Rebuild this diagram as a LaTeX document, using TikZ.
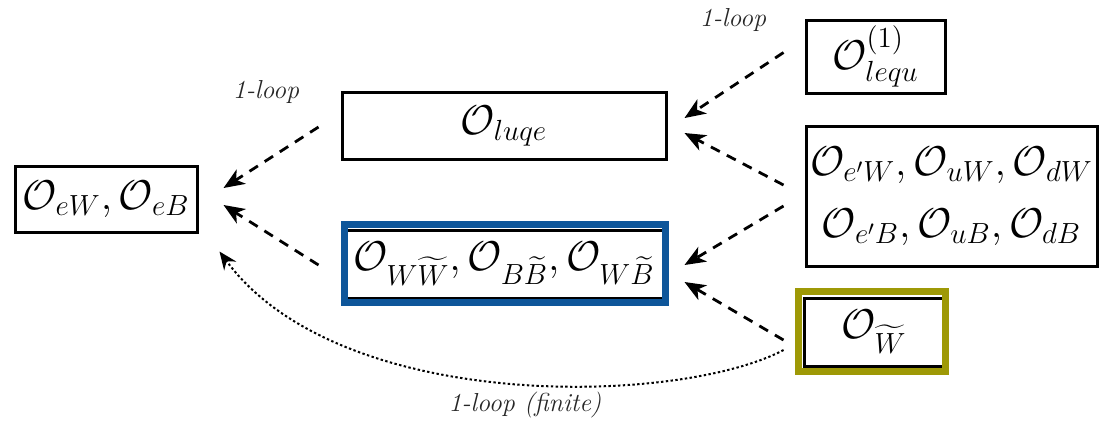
\RequirePackage{fix-cm}
\documentclass[tikz,border=0pt]{standalone}
\usepackage{amsmath}
\usetikzlibrary{arrows.meta,calc}
\definecolor{frameblue}{RGB}{14,86,154}
\definecolor{frameolive}{RGB}{158,153,6}
\begin{document}
\begin{tikzpicture}[x=0.5pt,y=-0.5pt,
  opbox/.style={draw, line width=1.5pt, inner sep=0pt, font=\fontsize{20.8}{25}\selectfont, align=center},
  lbl/.style={font=\fontsize{13}{15}\selectfont\itshape, text=black!85},
  dasharrow/.style={line width=1.4pt, dash pattern=on 5pt off 4pt, -{Stealth[length=10.5pt,width=8.5pt,inset=3pt]}},
  dotarrow/.style={line width=1pt, dash pattern=on 1.2pt off 1.2pt, -{Stealth[length=9pt,width=7.5pt,inset=3pt]}},
  frame/.style={line width=3.5pt}]
\useasboundingbox (0,0) rectangle (1111,420);

\node[opbox, minimum width=91pt, minimum height=33pt] (ew) at (106,199) {$\mathcal{O}_{eW},\mathcal{O}_{eB}$};
\node[opbox, minimum width=162pt, minimum height=33.5pt] (luqe) at (504,126) {$\mathcal{O}_{luqe}$};
\node[opbox, minimum width=162pt, minimum height=34pt] (blue) at (504,264) {$\mathcal{O}_{W\widetilde{W}},\mathcal{O}_{B\widetilde{B}},\mathcal{O}_{W\widetilde{B}}$};
\draw[frame, frameblue] (blue.south west) ++(4,3) rectangle ($(blue.north east)+(-2,-4)$);
\node[opbox, minimum width=69.5pt, minimum height=36.5pt] (lequ) at (875.5,56.5) {$\mathcal{O}^{(1)}_{lequ}$};
\node[opbox, minimum width=145.5pt, minimum height=70pt] (ew2) at (951.5,196) {$\mathcal{O}_{e'W},\mathcal{O}_{uW},\mathcal{O}_{dW}$\\[6pt]$\mathcal{O}_{e'B},\mathcal{O}_{uB},\mathcal{O}_{dB}$};
\node[opbox, minimum width=70pt, minimum height=34pt] (ow) at (874,332) {$\mathcal{O}_{\widetilde{W}}$};
\draw[frame, frameolive] ($(ow.south west)+(-4,4)$) rectangle ($(ow.north east)+(0,-5)$);

\node[lbl] (l1) at (266,92) {1-loop};
\node[lbl] (l2) at (733,20) {1-loop};
\node[lbl] (l3) at (525,405) {1-loop (finite)};

\draw[dasharrow] ($(luqe.west)+(-22,1)$) -- ($(ew.east)+(25,-11)$);
\draw[dasharrow] ($(blue.west)+(-22,1)$) -- ($(ew.east)+(25,6)$);
\draw[dasharrow] ($(lequ.west)+(-21,-4)$) -- ($(luqe.east)+(17,-8)$);
\draw[dasharrow] ($(ew2.west)+(-21,-11)$) -- ($(luqe.east)+(17,7)$);
\draw[dasharrow] ($(ew2.west)+(-21,10)$) -- ($(blue.east)+(17,1)$);
\draw[dasharrow] ($(ow.west)+(-19,8)$) -- ($(blue.east)+(17,18)$);
\draw[dotarrow] ($(ow.west)+(-19,18)$) .. controls (680,405) and (340,415) .. ($(ew.south east)+(21,18)$);
\end{tikzpicture}
\end{document}
